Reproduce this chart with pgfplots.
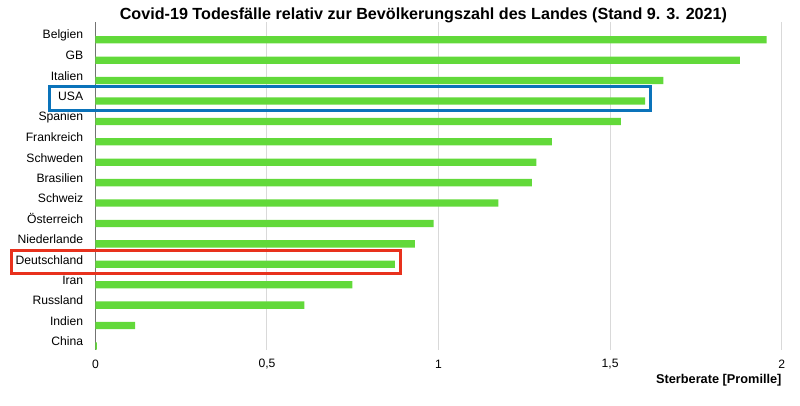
\documentclass[border=0pt]{standalone}
\usepackage{fontspec}
\setmainfont{Liberation Sans}
\usepackage{pgfplots}
\usepackage{pgfplotstable}
\pgfplotsset{compat=1.18}
\definecolor{bargreen}{RGB}{98,217,58}
\definecolor{boxblue}{RGB}{10,115,186}
\definecolor{boxred}{RGB}{232,49,29}
\pgfplotstableread{
idx val
0 1.956
1 1.878
2 1.655
3 1.602
4 1.531
5 1.330
6 1.285
7 1.272
8 1.174
9 0.986
10 0.931
11 0.873
12 0.749
13 0.609
14 0.116
15 0.004
}\datatable
\begin{document}
\begin{tikzpicture}
\useasboundingbox (-95.4bp,-56bp) rectangle (704.6bp,350bp);
\begin{axis}[
  at={(0,0)}, anchor=south west,
  scale only axis, width=686.3bp, height=328bp,
  xmin=0, xmax=2, ymin=-0.87, ymax=15.2,
  y dir=reverse,
  clip=false,
  axis x line*=bottom, x axis line style={draw=none},
  axis y line*=left, y axis line style={draw=black!55, line width=0.8bp},
  xtick={0,0.5,1,1.5,2},
  xticklabels={0,{0,5},1,{1,5},2},
  ytick={-0.22,0.78,1.78,2.78,3.78,4.78,5.78,6.78,7.78,8.78,9.78,10.78,11.78,12.78,13.78,14.78},
  yticklabels={Belgien,GB,Italien,USA,Spanien,Frankreich,Schweden,Brasilien,Schweiz,Österreich,Niederlande,Deutschland,Iran,Russland,Indien,China},
  major tick length=0,
  xmajorgrids, grid style={draw=black!15, line width=1bp},
  tick label style={font=\fontsize{12.2}{14}\selectfont},
  xticklabel style={anchor=center, yshift=-14bp},
  yticklabel style={anchor=east, inner sep=0pt, xshift=-12bp},
  xlabel={Sterberate [Promille]},
  xlabel style={at={(axis description cs:1,0)}, anchor=east, inner sep=0pt, yshift=-30bp, font=\bfseries\fontsize{12.8}{14}\selectfont},
]
\addplot[xbar, bar width=7.3bp, fill=bargreen, draw=none] table[x=val, y=idx] {\datatable};
\draw[boxblue, line width=3bp] (axis cs:-0.134,2.30) rectangle (axis cs:1.618,3.48);
\draw[boxred, line width=3bp] (axis cs:-0.244,10.31) rectangle (axis cs:0.889,11.45);
\node[anchor=base, inner sep=0pt, yshift=3bp, font=\bfseries\fontsize{16.2}{19}\selectfont] at (axis description cs:0.478,1) {Covid-19 Todesfälle relativ zur Bevölkerungszahl des Landes (Stand 9. 3. 2021)};
\end{axis}
\end{tikzpicture}
\end{document}
